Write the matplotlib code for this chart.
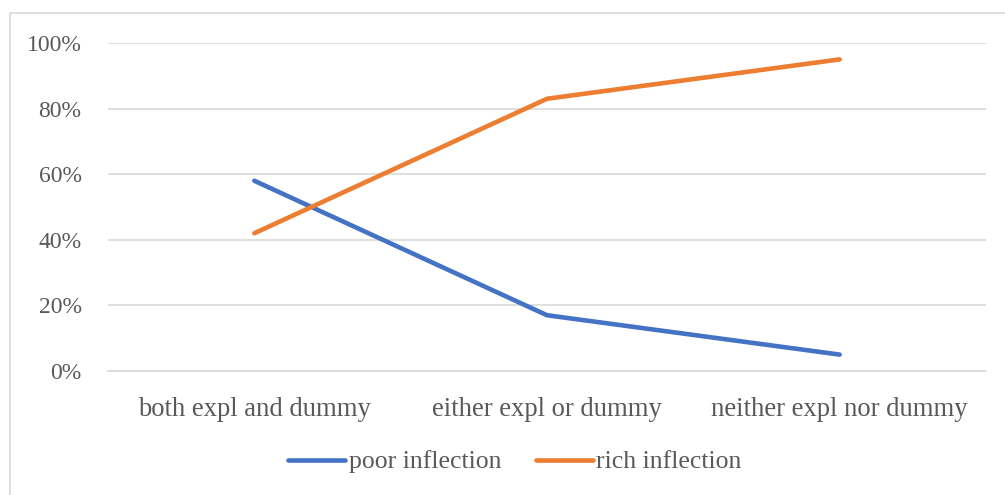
import matplotlib
matplotlib.use('Agg')
import matplotlib.pyplot as plt
from matplotlib.patches import Rectangle
from matplotlib.ticker import PercentFormatter

# Data
categories = ["both expl and dummy", "either expl or dummy", "neither expl nor dummy"]
poor_inflection = [58, 17, 5]
rich_inflection = [42, 83, 95]

BLUE = "#4472C4"
ORANGE = "#ED7D31"
TEXT = "#595959"
GRID = "#D9D9D9"

plt.rcParams['font.family'] = ['Liberation Serif', 'DejaVu Serif']

fig = plt.figure(figsize=(10.05, 4.95), dpi=100, facecolor="white")
ax = fig.add_axes([108 / 1005, 1 - 371 / 495, (986 - 108) / 1005, (371 - 43) / 495])

# chart frame (extends past the right/bottom edge like the reference crop)
fig.patches.append(Rectangle((10 / 1005, -0.1), 1.2, 1.1 - 13 / 495,
                             transform=fig.transFigure, fill=False,
                             edgecolor=GRID, linewidth=1.2))

x = range(len(categories))
ax.plot(x, poor_inflection, color=BLUE, lw=3.3, solid_capstyle='round', label="poor inflection")
ax.plot(x, rich_inflection, color=ORANGE, lw=3.3, solid_capstyle='round', label="rich inflection")

ax.set_xlim(-0.5, len(categories) - 0.5)
ax.set_ylim(0, 100)
ax.set_yticks(range(0, 101, 20))
ax.yaxis.set_major_formatter(PercentFormatter(decimals=0))
ax.set_xticks(list(x))
ax.set_xticklabels(categories)
ax.grid(axis='y', color=GRID, lw=1.2)
ax.set_axisbelow(True)
for side in ["top", "right", "left"]:
    ax.spines[side].set_visible(False)
ax.spines["bottom"].set_color(GRID)
ax.spines["bottom"].set_linewidth(1.2)
ax.tick_params(axis='both', length=0, colors=TEXT)
ax.tick_params(axis='x', pad=18.5, labelsize=19.2)
ax.tick_params(axis='y', pad=19, labelsize=17)

leg = fig.legend(loc='center', bbox_to_anchor=(515 / 1005, 1 - 462 / 495), ncol=2,
                 frameon=False, fontsize=18.5, handlelength=2.2, handletextpad=0.15,
                 columnspacing=1.36, labelcolor=TEXT)

fig.savefig("out.png", dpi=100, facecolor="white")
